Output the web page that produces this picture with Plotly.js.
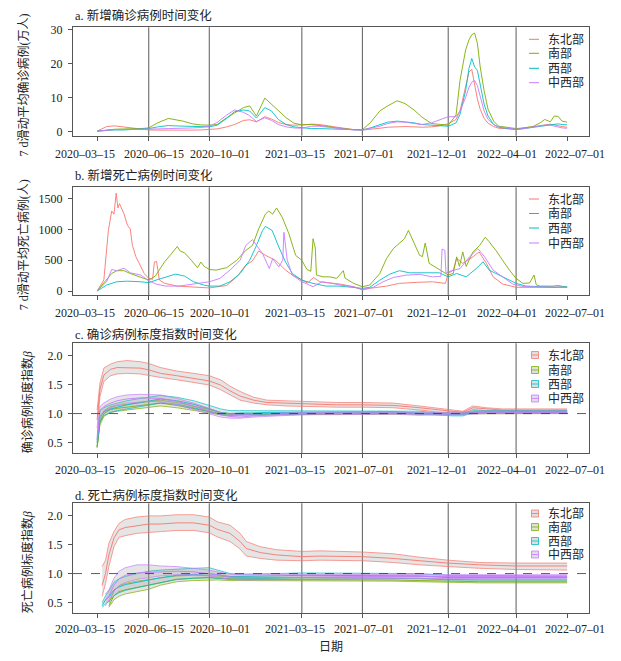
<!DOCTYPE html>
<html><head><meta charset="utf-8">
<script src="https://cdn.plot.ly/plotly-3.0.1.min.js"></script>
<style>html,body{margin:0;padding:0;background:#fff}#chart{width:621px;height:661px}</style>
</head><body><div id="chart"></div>
<script>
// ---------------- data ----------------
const regions = ['东北部', '南部', '西部', '中西部'];
const colors = ['#F8766D', '#7CAE00', '#00BFC4', '#C77CFF'];
const tickDates = ['2020-03-15','2020-06-15','2020-10-01','2021-03-15','2021-07-01','2021-12-01','2022-04-01','2022-07-01'];
const tickLabels = ['2020\u201303\u201315','2020\u201306\u201315','2020\u201310\u201301','2021\u201303\u201315','2021\u201307\u201301','2021\u201312\u201301','2022\u201304\u201301','2022\u201307\u201301'];
const refLineDates = ['2020-06-15','2020-10-01','2021-03-15','2021-07-01','2021-12-01','2022-04-01'];

// a. new cases, 7-day average (10k persons)
const casesDates = ['2020-03-15','2020-04-01','2020-04-15','2020-05-01','2020-05-15','2020-06-01','2020-06-15','2020-07-01','2020-07-20','2020-08-01',
'2020-08-15','2020-09-01','2020-09-15','2020-10-01','2020-10-15','2020-11-01','2020-11-15','2020-12-01','2020-12-12','2020-12-24',
'2021-01-08','2021-01-20','2021-02-01','2021-02-15','2021-03-01','2021-03-15','2021-04-01','2021-04-15','2021-05-01','2021-05-15',
'2021-06-01','2021-06-15','2021-07-01','2021-07-15','2021-08-01','2021-08-15','2021-09-01','2021-09-15','2021-10-01','2021-10-15',
'2021-11-01','2021-11-15','2021-12-01','2021-12-15','2021-12-22','2022-01-01','2022-01-07','2022-01-12','2022-01-17','2022-01-22',
'2022-01-27','2022-02-03','2022-02-10','2022-02-20','2022-03-01','2022-03-15','2022-04-01','2022-04-15','2022-05-01','2022-05-15',
'2022-05-22','2022-06-01','2022-06-08','2022-06-15','2022-06-22','2022-07-01'];
const casesNE = [0.05,1.4,1.6,1.3,0.9,0.6,0.4,0.35,0.3,0.3,
0.3,0.35,0.4,0.5,0.7,1.3,2.0,3.2,3.4,2.8,
4.3,3.6,2.6,2.0,1.8,1.9,2.1,2.0,1.6,1.2,
0.8,0.5,0.35,0.5,0.9,1.2,1.4,1.4,1.3,1.2,
1.3,1.6,2.2,3.5,6.0,13.0,17.5,18.3,14.0,9.5,
6.5,3.8,2.4,1.4,0.9,0.7,0.6,1.0,1.4,1.8,
2.0,2.1,1.9,1.6,1.4,1.2];
const casesS = [0.05,0.4,0.6,0.7,0.7,0.8,1.0,2.5,3.8,3.5,
3.0,2.2,1.9,1.8,2.0,4.0,5.5,7.0,7.5,4.5,
9.8,8.0,6.2,4.0,2.4,1.9,2.0,1.8,1.4,1.0,
0.7,0.5,0.5,2.5,6.0,7.5,9.0,8.2,6.3,4.2,
2.3,2.0,1.8,4.8,15.0,24.0,27.0,28.5,29.0,26.0,
19.0,12.0,6.5,3.0,1.5,1.2,0.8,1.0,1.4,2.6,
3.5,2.8,4.5,4.4,3.0,2.7];
const casesW = [0.05,0.3,0.4,0.4,0.5,0.6,0.8,1.3,1.7,1.6,
1.5,1.3,1.2,1.3,1.8,3.8,5.8,6.3,6.0,3.9,
7.0,6.0,3.5,2.0,1.3,1.0,0.8,0.8,0.7,0.6,
0.5,0.4,0.4,1.0,2.0,2.7,3.0,2.8,2.5,2.0,
1.8,1.8,1.5,2.5,5.0,12.0,18.5,21.5,19.0,18.0,
14.0,8.0,4.5,2.0,1.2,0.8,0.5,0.8,1.2,1.6,
1.8,2.0,2.2,2.2,2.0,1.9];
const casesMW = [0.05,0.4,0.5,0.5,0.5,0.5,0.6,0.7,0.8,0.8,
0.9,1.0,1.1,1.5,2.6,4.8,6.3,5.6,4.6,2.9,
4.0,3.2,2.0,1.3,1.0,0.9,1.5,1.5,1.2,0.9,
0.6,0.4,0.4,0.8,1.5,2.3,2.8,2.7,2.3,2.0,
2.5,3.4,4.3,4.3,6.0,10.0,13.0,14.5,15.0,13.5,
10.0,6.0,3.5,2.0,1.3,0.9,0.6,0.8,1.2,1.6,
1.8,1.8,1.5,1.2,1.0,0.9];

// b. new deaths, 7-day average (persons)
const deathsNEDates = ['2020-03-15','2020-03-27','2020-04-04','2020-04-10','2020-04-14','2020-04-18','2020-04-21','2020-04-24','2020-05-02','2020-05-08',
'2020-05-13','2020-05-17','2020-05-23','2020-06-01','2020-06-07','2020-06-15','2020-06-22','2020-06-25','2020-06-29','2020-07-04',
'2020-07-13','2020-08-05','2020-09-03','2020-10-01','2020-11-01','2020-11-19','2020-12-05','2020-12-17','2020-12-28','2021-01-09',
'2021-01-27','2021-02-14','2021-02-26','2021-03-15','2021-03-25','2021-04-05','2021-04-16','2021-05-22','2021-06-15','2021-07-01',
'2021-07-14','2021-08-13','2021-09-05','2021-10-05','2021-11-03','2021-11-26','2021-12-01','2021-12-10','2021-12-16','2021-12-27',
'2022-01-14','2022-01-25','2022-02-07','2022-02-19','2022-03-08','2022-04-01','2022-05-01','2022-06-01','2022-07-01'];
const deathsNE = [0,180,980,1300,1250,1590,1350,1420,1250,1070,
1010,740,560,390,285,205,190,470,480,180,
125,80,60,50,90,230,420,490,650,580,
500,340,260,180,130,220,150,113,70,16,
43,80,124,140,150,124,285,340,530,450,
555,635,450,230,113,60,55,60,60];
const deathsSDates = ['2020-03-15','2020-04-01','2020-04-10','2020-04-19','2020-05-02','2020-05-13','2020-06-01','2020-06-15','2020-06-27','2020-07-13',
'2020-07-25','2020-08-05','2020-08-10','2020-08-18','2020-08-30','2020-09-10','2020-09-16','2020-09-22','2020-10-01','2020-10-13',
'2020-11-01','2020-11-19','2020-12-05','2020-12-17','2020-12-28','2021-01-09','2021-01-15','2021-01-22','2021-01-29','2021-02-08',
'2021-02-20','2021-03-04','2021-03-15','2021-03-24','2021-03-31','2021-04-04','2021-04-08','2021-04-10','2021-04-22','2021-05-04',
'2021-05-16','2021-05-28','2021-05-31','2021-06-15','2021-07-01','2021-07-14','2021-08-01','2021-08-13','2021-08-25','2021-09-05',
'2021-09-14','2021-09-21','2021-09-29','2021-10-11','2021-10-16','2021-10-21','2021-10-28','2021-11-09','2021-11-18','2021-12-01',
'2021-12-10','2021-12-16','2021-12-21','2021-12-27','2022-01-02','2022-01-14','2022-01-26','2022-02-05','2022-02-12','2022-02-24',
'2022-03-08','2022-03-20','2022-04-01','2022-04-13','2022-04-25','2022-05-03','2022-05-07','2022-05-13','2022-06-06','2022-06-15',
'2022-07-01'];
const deathsS = [0,177,285,330,330,285,230,177,245,470,
600,725,650,620,500,380,470,400,350,340,
380,500,660,740,1010,1250,1300,1250,1350,1200,
930,580,500,350,320,850,700,260,230,230,
205,330,210,125,70,97,285,527,688,770,
850,985,820,580,560,780,450,380,340,260,
285,555,400,635,400,635,740,875,800,660,
500,340,205,125,130,260,100,80,80,90,
60];
const deathsWDates = ['2020-03-15','2020-04-01','2020-04-19','2020-05-08','2020-06-01','2020-06-15','2020-06-28','2020-07-15','2020-08-02','2020-08-18',
'2020-09-03','2020-09-21','2020-10-01','2020-10-20','2020-11-07','2020-11-25','2020-12-12','2020-12-23','2021-01-04','2021-01-09',
'2021-01-21','2021-02-02','2021-02-14','2021-02-26','2021-03-15','2021-04-04','2021-04-27','2021-05-22','2021-06-15','2021-07-01',
'2021-07-14','2021-08-01','2021-08-19','2021-09-05','2021-09-23','2021-10-11','2021-10-28','2021-11-15','2021-12-01','2021-12-16',
'2022-01-02','2022-01-20','2022-02-01','2022-02-12','2022-02-24','2022-03-14','2022-04-01','2022-04-19','2022-05-15','2022-06-10',
'2022-07-01'];
const deathsW = [0,97,150,160,150,135,177,230,275,242,
150,97,80,80,150,285,500,715,985,1050,
985,715,470,285,177,124,80,80,60,43,
60,177,275,330,296,296,285,296,230,285,
230,365,475,340,285,205,124,80,70,60,
70];
const deathsMWDates = ['2020-03-15','2020-04-01','2020-04-10','2020-04-19','2020-05-02','2020-05-13','2020-06-01','2020-06-15','2020-06-28','2020-07-15',
'2020-08-08','2020-09-03','2020-10-01','2020-10-20','2020-11-07','2020-11-25','2020-12-05','2020-12-17','2020-12-26','2021-01-04',
'2021-01-16','2021-01-22','2021-02-02','2021-02-09','2021-02-11','2021-02-17','2021-02-26','2021-03-15','2021-04-04','2021-04-20',
'2021-05-10','2021-05-22','2021-06-15','2021-07-01','2021-07-20','2021-08-07','2021-08-25','2021-09-17','2021-10-11','2021-11-03',
'2021-11-18','2021-11-20','2021-11-25','2021-11-27','2021-12-01','2021-12-22','2022-01-08','2022-01-23','2022-02-04','2022-02-19',
'2022-03-08','2022-03-26','2022-04-15','2022-07-01'];
const deathsMW = [0,150,350,330,370,296,258,167,113,80,
80,113,150,205,340,500,740,835,715,607,
366,527,392,500,955,500,258,150,70,150,
120,97,70,27,60,150,220,258,270,230,
240,683,660,290,312,365,555,688,555,340,
230,113,70,60];

// c. scaling exponent of confirmed cases (lower / estimate / upper)
const caseBetaDates = ['2020-03-15','2020-03-20','2020-03-27','2020-04-08','2020-04-20','2020-05-07','2020-05-31','2020-06-15','2020-07-06','2020-08-04',
'2020-09-03','2020-10-01','2020-10-21','2020-11-07','2020-11-25','2020-12-19','2021-01-12','2021-02-16','2021-03-15','2021-05-16',
'2021-07-01','2021-08-25','2021-10-11','2021-11-15','2021-12-10','2021-12-27','2022-01-14','2022-02-07','2022-03-08','2022-07-01'];
const caseBetaNEHi = [1.06,1.52,1.78,1.85,1.89,1.91,1.89,1.86,1.79,1.73,1.69,1.65,1.58,1.47,1.38,1.28,1.23,1.22,1.21,1.19,1.19,1.18,1.13,1.09,1.05,1.04,1.13,1.10,1.08,1.08];
const caseBetaNE   = [0.89,1.41,1.66,1.76,1.79,1.79,1.78,1.75,1.69,1.65,1.61,1.56,1.49,1.39,1.30,1.23,1.19,1.18,1.16,1.15,1.15,1.14,1.10,1.06,1.03,1.02,1.10,1.08,1.06,1.06];
const caseBetaNELo = [0.75,1.29,1.55,1.65,1.68,1.69,1.68,1.66,1.62,1.58,1.53,1.49,1.41,1.32,1.23,1.18,1.15,1.13,1.12,1.11,1.11,1.10,1.06,1.02,1.00,1.00,1.07,1.05,1.04,1.04];
const caseBetaSHi = [0.42,0.90,1.05,1.12,1.14,1.16,1.19,1.20,1.23,1.19,1.13,1.07,1.02,1.00,1.00,1.00,1.00,1.00,1.00,1.01,1.01,1.01,1.01,1.01,1.01,1.01,1.02,1.02,1.02,1.02];
const caseBetaS   = [0.42,0.85,1.00,1.07,1.09,1.11,1.14,1.15,1.18,1.14,1.09,1.04,1.00,0.99,0.99,0.99,0.99,0.99,0.99,1.00,1.00,1.00,1.00,1.00,1.00,1.00,1.01,1.01,1.01,1.01];
const caseBetaSLo = [0.42,0.80,0.95,1.02,1.04,1.06,1.09,1.10,1.13,1.10,1.05,1.01,0.98,0.97,0.97,0.97,0.98,0.98,0.98,0.99,0.99,0.99,0.99,0.99,0.99,0.99,1.00,1.00,1.00,1.00];
const caseBetaWHi = [0.55,1.05,1.10,1.15,1.18,1.22,1.26,1.28,1.31,1.28,1.22,1.14,1.08,1.05,1.05,1.05,1.05,1.05,1.05,1.05,1.05,1.05,1.04,1.01,1.00,1.00,1.05,1.05,1.05,1.05];
const caseBetaW   = [0.50,0.95,1.03,1.08,1.11,1.15,1.19,1.21,1.25,1.22,1.16,1.08,1.02,1.00,1.01,1.01,1.02,1.02,1.02,1.03,1.03,1.03,1.01,0.99,0.98,0.98,1.03,1.03,1.03,1.03];
const caseBetaWLo = [0.45,0.85,0.97,1.02,1.05,1.08,1.12,1.14,1.18,1.16,1.10,1.03,0.98,0.97,0.98,0.98,0.99,0.99,0.99,1.01,1.01,1.01,0.99,0.97,0.96,0.96,1.01,1.01,1.01,1.01];
const caseBetaMWHi = [0.60,1.12,1.18,1.25,1.29,1.32,1.33,1.33,1.32,1.26,1.18,1.09,1.02,0.99,0.98,0.99,1.00,1.01,1.02,1.02,1.03,1.03,1.01,1.02,1.03,1.03,1.04,1.04,1.04,1.04];
const caseBetaMW   = [0.55,1.05,1.12,1.18,1.22,1.25,1.27,1.27,1.26,1.21,1.13,1.04,0.98,0.95,0.94,0.96,0.97,0.98,1.00,1.00,1.01,1.01,0.99,1.00,1.01,1.01,1.02,1.02,1.02,1.02];
const caseBetaMWLo = [0.50,0.95,1.04,1.10,1.15,1.18,1.20,1.21,1.20,1.15,1.07,0.99,0.94,0.92,0.92,0.94,0.95,0.96,0.98,0.98,0.99,0.99,0.97,0.98,0.99,0.99,1.00,1.00,1.00,1.00];

// d. scaling exponent of deaths (lower / estimate / upper)
const deathBetaDates = ['2020-03-24','2020-03-30','2020-04-05','2020-04-14','2020-04-23','2020-05-04','2020-05-25','2020-06-15','2020-07-06','2020-08-04',
'2020-09-03','2020-10-01','2020-10-15','2020-11-07','2020-11-25','2020-12-06','2020-12-31','2021-01-29','2021-03-15','2021-04-16',
'2021-07-01','2021-08-25','2021-10-11','2021-12-01','2022-01-26','2022-04-01','2022-07-01'];
const deathBetaNEHi = [1.12,1.23,1.52,1.72,1.86,1.93,1.97,1.99,1.99,2.01,2.01,1.97,1.89,1.83,1.69,1.55,1.46,1.41,1.38,1.39,1.37,1.34,1.28,1.23,1.19,1.18,1.18];
const deathBetaNE   = [0.80,1.00,1.32,1.61,1.75,1.79,1.82,1.85,1.85,1.87,1.87,1.83,1.76,1.69,1.55,1.43,1.36,1.32,1.29,1.30,1.29,1.26,1.22,1.18,1.15,1.13,1.13];
const deathBetaNELo = [0.61,0.83,1.12,1.46,1.62,1.65,1.69,1.71,1.72,1.74,1.74,1.70,1.63,1.55,1.42,1.30,1.26,1.23,1.22,1.23,1.22,1.19,1.15,1.12,1.09,1.07,1.06];
const deathBetaSHi = [null,null,0.50,0.70,0.79,0.83,0.87,0.90,0.93,0.96,0.97,0.97,0.96,0.94,0.93,0.93,0.93,0.93,0.93,0.93,0.92,0.92,0.91,0.90,0.89,0.89,0.89];
const deathBetaS   = [null,null,0.45,0.62,0.69,0.72,0.76,0.80,0.85,0.90,0.92,0.93,0.92,0.91,0.90,0.90,0.90,0.90,0.90,0.90,0.89,0.89,0.88,0.87,0.86,0.86,0.86];
const deathBetaSLo = [null,null,0.42,0.55,0.61,0.65,0.69,0.73,0.80,0.86,0.88,0.89,0.89,0.88,0.88,0.88,0.88,0.88,0.87,0.87,0.87,0.87,0.86,0.85,0.84,0.84,0.84];
const deathBetaWHi = [0.50,0.62,0.70,0.85,0.91,0.95,1.00,1.04,1.06,1.08,1.09,1.10,1.06,1.00,0.99,0.99,0.99,1.00,1.01,1.01,1.01,1.01,1.00,0.97,0.97,0.96,0.96];
const deathBetaW   = [0.45,0.55,0.60,0.72,0.77,0.81,0.85,0.89,0.93,0.97,0.99,1.00,0.98,0.95,0.95,0.95,0.95,0.96,0.97,0.97,0.97,0.97,0.96,0.93,0.93,0.93,0.93];
const deathBetaWLo = [0.42,0.48,0.52,0.62,0.67,0.71,0.76,0.80,0.85,0.90,0.92,0.93,0.92,0.90,0.91,0.91,0.91,0.92,0.93,0.93,0.93,0.93,0.92,0.89,0.89,0.89,0.89];
const deathBetaMWHi = [null,0.65,0.72,0.92,1.04,1.10,1.15,1.15,1.13,1.12,1.09,1.06,1.03,0.99,0.98,0.98,0.98,0.98,0.98,0.98,0.98,0.98,0.98,0.98,0.98,0.98,0.98];
const deathBetaMW   = [null,0.55,0.62,0.80,0.91,0.97,1.01,1.02,1.03,1.04,1.03,1.00,0.98,0.94,0.93,0.93,0.93,0.93,0.94,0.94,0.95,0.95,0.95,0.95,0.95,0.95,0.95];
const deathBetaMWLo = [null,0.45,0.55,0.70,0.79,0.85,0.90,0.93,0.96,0.98,0.98,0.96,0.94,0.90,0.89,0.89,0.89,0.89,0.90,0.90,0.91,0.91,0.92,0.92,0.92,0.92,0.92];

// ---------------- drawing ----------------
const FONT = 'Liberation Serif, Noto Sans CJK SC, serif';
const TXT = '#222';
const W = 621, H = 661, L = 73, R = 589;
const fx = px => (px - L) / (R - L);
const fy = py => 1 - py / H;
// horizontal nudges of the date labels, as placed in the reference (pixels)
const tickLabelShift = [-12, 5, 11, -7, 1.5, -11, -9.5, 8];

const traces = [];
function lineTrace(x, y, color, ax) {
  return {x, y, xaxis: 'x' + ax, yaxis: 'y' + ax, type: 'scatter', mode: 'lines',
    line: {color, width: 0.9}, showlegend: false, hoverinfo: 'skip'};
}
function bandTraces(dates, lo, mid, hi, color, ax) {
  const idx = dates.map((d, i) => i).filter(i => lo[i] != null);
  const x = idx.map(i => dates[i]);
  const common = {xaxis: 'x' + ax, yaxis: 'y' + ax, type: 'scatter', mode: 'lines', showlegend: false, hoverinfo: 'skip'};
  traces.push(Object.assign({}, common, {x, y: idx.map(i => lo[i]), line: {color, width: 0.7}, opacity: 0.8}));
  traces.push(Object.assign({}, common, {x, y: idx.map(i => hi[i]), line: {color, width: 0.7}, opacity: 0.8,
    fill: 'tonexty', fillcolor: 'rgba(150,150,150,0.25)'}));
  traces.push(Object.assign({}, common, {x, y: idx.map(i => mid[i]), line: {color, width: 0.9}}));
}

[casesNE, casesS, casesW, casesMW].forEach((v, k) => traces.push(lineTrace(casesDates, v, colors[k], '')));
[[deathsNEDates, deathsNE], [deathsSDates, deathsS], [deathsWDates, deathsW], [deathsMWDates, deathsMW]]
  .forEach((p, k) => traces.push(lineTrace(p[0], p[1], colors[k], '2')));
bandTraces(caseBetaDates, caseBetaNELo, caseBetaNE, caseBetaNEHi, colors[0], '3');
bandTraces(caseBetaDates, caseBetaSLo, caseBetaS, caseBetaSHi, colors[1], '3');
bandTraces(caseBetaDates, caseBetaWLo, caseBetaW, caseBetaWHi, colors[2], '3');
bandTraces(caseBetaDates, caseBetaMWLo, caseBetaMW, caseBetaMWHi, colors[3], '3');
bandTraces(deathBetaDates, deathBetaNELo, deathBetaNE, deathBetaNEHi, colors[0], '4');
bandTraces(deathBetaDates, deathBetaSLo, deathBetaS, deathBetaSHi, colors[1], '4');
bandTraces(deathBetaDates, deathBetaWLo, deathBetaW, deathBetaWHi, colors[2], '4');
bandTraces(deathBetaDates, deathBetaMWLo, deathBetaMW, deathBetaMWHi, colors[3], '4');

const panels = [
  {top: 27.3, bottom: 135.7, range: [-1.3, 30.7], tv: [0, 10, 20, 30], tt: ['0', '10', '20', '30'],
   title: 'a. 新增确诊病例时间变化', titleY: 15, ytitle: '7 d滑动平均确诊病例(万人)', ytx: 23,
   legendY: [39.3, 53.3, 68.3, 82.7], band: false, labY: 154},
  {top: 187.3, bottom: 295, range: [-65, 1686], tv: [0, 500, 1000, 1500], tt: ['0', '500', '1000', '1500'],
   title: 'b. 新增死亡病例时间变化', titleY: 176, ytitle: '7 d滑动平均死亡病例(人)', ytx: 23,
   legendY: [199, 213.5, 228, 243], band: false, labY: 313},
  {top: 343.3, bottom: 453.3, range: [0.318, 2.206], tv: [0.5, 1, 1.5, 2], tt: ['0.5', '1.0', '1.5', '2.0'],
   title: 'c. 确诊病例标度指数时间变化', titleY: 335, ytitle: '确诊病例标度指数<i>β</i>', ytx: 27,
   legendY: [355, 370, 384, 398.5], band: true, labY: 470},
  {top: 503.3, bottom: 613.3, range: [0.318, 2.206], tv: [0.5, 1, 1.5, 2], tt: ['0.5', '1.0', '1.5', '2.0'],
   title: 'd. 死亡病例标度指数时间变化', titleY: 495, ytitle: '死亡病例标度指数<i>β</i>', ytx: 27,
   legendY: [513.5, 527, 541, 554.5], band: true, labY: 628.5}
];

const layout = {
  width: W, height: H, margin: {l: L, r: W - R, t: 0, b: 0},
  paper_bgcolor: '#fff', plot_bgcolor: '#fff', showlegend: false,
  font: {family: FONT, size: 12, color: TXT},
  shapes: [], annotations: []
};

panels.forEach((p, i) => {
  const n = i === 0 ? '' : String(i + 1);
  layout['xaxis' + n] = {
    domain: [0, 1], anchor: 'y' + n, type: 'date', range: ['2020-02-01', '2022-08-09'],
    tickmode: 'array', tickvals: tickDates, ticktext: tickLabels, showticklabels: false,
    ticks: 'outside', ticklen: 4, tickcolor: '#555', tickwidth: 1,
    showline: true, mirror: true, linecolor: '#555', linewidth: 1,
    showgrid: false, zeroline: false
  };
  layout['yaxis' + n] = {
    domain: [fy(p.bottom), fy(p.top)], anchor: 'x' + n, range: p.range,
    tickmode: 'array', tickvals: p.tv, ticktext: p.tt,
    ticks: 'outside', ticklen: 4, tickcolor: '#555', tickwidth: 1,
    showline: true, mirror: true, linecolor: '#555', linewidth: 1,
    showgrid: false, zeroline: false, ticklabelstandoff: 3,
    tickfont: {family: FONT, size: 12, color: TXT}
  };
  // date labels under each panel
  tickDates.forEach((d, k) => layout.annotations.push({
    text: tickLabels[k], xref: 'x' + n, yref: 'paper', x: d, y: fy(p.labY), xshift: tickLabelShift[k],
    xanchor: 'center', yanchor: 'middle', showarrow: false, font: {family: FONT, size: 12, color: TXT}
  }));
  refLineDates.forEach(d => layout.shapes.push({
    type: 'line', xref: 'x' + n, yref: 'y' + n + ' domain', x0: d, x1: d, y0: 0, y1: 1,
    line: {color: '#6a6a6a', width: 1.1}, layer: 'below'
  }));
  if (p.band) {
    layout.shapes.push({type: 'line', xref: 'x' + n + ' domain', yref: 'y' + n, x0: 0, x1: 1, y0: 1, y1: 1,
      line: {color: '#333', width: 0.8, dash: 'dash'}, layer: 'above'});
  }
  layout.annotations.push({text: p.title, xref: 'paper', yref: 'paper', x: 0, y: fy(p.titleY),
    xanchor: 'left', yanchor: 'middle', showarrow: false, font: {family: FONT, size: 12.5, color: TXT}});
  layout.annotations.push({text: p.ytitle, xref: 'paper', yref: 'paper', x: fx(p.ytx), y: fy((p.top + p.bottom) / 2 + 4),
    xanchor: 'center', yanchor: 'middle', textangle: -90, showarrow: false, font: {family: FONT, size: 12, color: TXT}});
  // legend
  regions.forEach((r, k) => {
    const yy = p.legendY[k];
    if (!p.band) {
      layout.shapes.push({type: 'line', xref: 'paper', yref: 'paper', x0: fx(529), x1: fx(539), y0: fy(yy), y1: fy(yy),
        line: {color: colors[k], width: 1}});
    } else {
      layout.shapes.push({type: 'rect', xref: 'paper', yref: 'paper', x0: fx(531.5), x1: fx(538.5), y0: fy(yy + 3.5), y1: fy(yy - 3.5),
        fillcolor: 'rgba(150,150,150,0.3)', line: {color: colors[k], width: 0.8}});
      layout.shapes.push({type: 'line', xref: 'paper', yref: 'paper', x0: fx(531.5), x1: fx(538.5), y0: fy(yy), y1: fy(yy),
        line: {color: colors[k], width: 0.8}});
    }
    layout.annotations.push({text: r, xref: 'paper', yref: 'paper', x: fx(546), y: fy(yy),
      xanchor: 'left', yanchor: 'middle', showarrow: false, font: {family: FONT, size: 12, color: TXT}});
  });
});
layout.annotations.push({text: '日期', xref: 'paper', yref: 'paper', x: 0.5, y: fy(647),
  xanchor: 'center', yanchor: 'middle', showarrow: false, font: {family: FONT, size: 12, color: TXT}});

Plotly.newPlot('chart', traces, layout, {displayModeBar: false, staticPlot: true});
</script>
</body></html>
